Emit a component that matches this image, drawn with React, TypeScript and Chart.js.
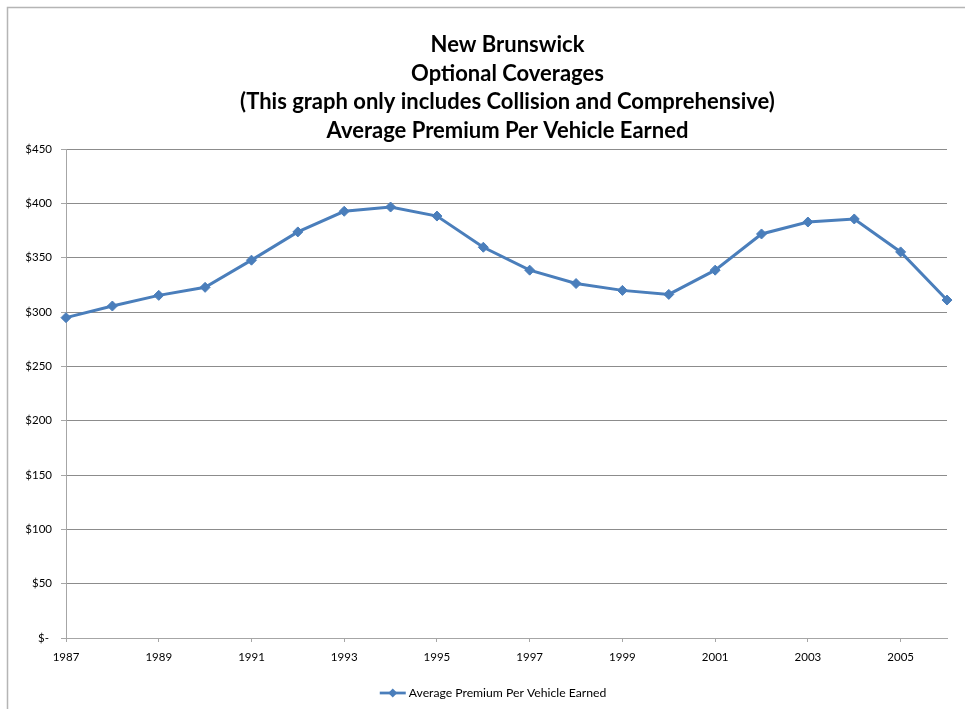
import React, { useEffect, useRef } from "react";
import { Chart, registerables } from "chart.js";

Chart.register(...registerables);

const titleLines = [
  "New Brunswick",
  "Optional Coverages",
  "(This graph only includes Collision and Comprehensive)",
  "Average Premium Per Vehicle Earned",
];

const years = [
  "1987", "1988", "1989", "1990", "1991", "1992", "1993", "1994", "1995", "1996",
  "1997", "1998", "1999", "2000", "2001", "2002", "2003", "2004", "2005", "2006",
];

const premiums = [
  294.8, 305.5, 315.3, 322.7, 347.7, 373.7, 392.7, 396.6, 388.3, 359.6,
  338.5, 326.2, 319.9, 316.2, 338.5, 371.8, 382.8, 385.6, 355.3, 311.0,
];

const seriesLabel = "Average Premium Per Vehicle Earned";

const yTicks = [0, 50, 100, 150, 200, 250, 300, 350, 400, 450];

const LINE_COLOR = "#4A7EBB";
const FONT = "Lato, 'Open Sans', sans-serif";

function drawDiamond(ctx: CanvasRenderingContext2D, x: number, y: number, r: number) {
  ctx.beginPath();
  ctx.moveTo(x, y - r);
  ctx.lineTo(x + r, y);
  ctx.lineTo(x, y + r);
  ctx.lineTo(x - r, y);
  ctx.closePath();
  ctx.fill();
}

const decorPlugin = {
  id: "decor",
  beforeDraw(chart: any) {
    const ctx = chart.ctx as CanvasRenderingContext2D;
    ctx.save();
    ctx.fillStyle = "#ffffff";
    ctx.fillRect(0, 0, chart.width, chart.height);
    ctx.strokeStyle = "#b5b5b5";
    ctx.lineWidth = 1.5;
    ctx.beginPath();
    ctx.moveTo(7.5, chart.height + 5);
    ctx.lineTo(7.5, 7.5);
    ctx.lineTo(chart.width + 5, 7.5);
    ctx.stroke();
    ctx.restore();
  },
  afterDraw(chart: any) {
    const ctx = chart.ctx as CanvasRenderingContext2D;
    const area = chart.chartArea;
    ctx.save();
    // title
    ctx.fillStyle = "#000000";
    ctx.font = `bold 22px ${FONT}`;
    ctx.textAlign = "center";
    ctx.textBaseline = "middle";
    const cx = (area.left + area.right) / 2 + 1;
    const tops = [45, 73.5, 102, 130.5];
    titleLines.forEach((t, i) => ctx.fillText(t, cx, tops[i]));
    // legend
    ctx.font = `12.2px ${FONT}`;
    const tw = ctx.measureText(seriesLabel).width;
    const lineLen = 26;
    const gap = 3;
    const total = lineLen + gap + tw;
    const lx = 493 - total / 2;
    const ly = 693;
    ctx.strokeStyle = LINE_COLOR;
    ctx.lineWidth = 2.75;
    ctx.beginPath();
    ctx.moveTo(lx, ly);
    ctx.lineTo(lx + lineLen, ly);
    ctx.stroke();
    ctx.fillStyle = LINE_COLOR;
    drawDiamond(ctx, lx + lineLen / 2, ly, 4.5);
    ctx.fillStyle = "#000000";
    ctx.textAlign = "left";
    ctx.fillText(seriesLabel, lx + lineLen + gap, ly + 0.5);
    ctx.restore();
  },
};

export default function App() {
  const ref = useRef<HTMLCanvasElement | null>(null);

  useEffect(() => {
    if (!ref.current) return;
    const chart = new Chart(ref.current, {
      type: "line",
      data: {
        labels: years,
        datasets: [
          {
            label: seriesLabel,
            data: premiums,
            borderColor: LINE_COLOR,
            backgroundColor: LINE_COLOR,
            borderWidth: 3,
            pointStyle: "rectRot",
            pointRadius: 5,
            pointBackgroundColor: LINE_COLOR,
            pointBorderColor: LINE_COLOR,
            pointBorderWidth: 1,
            tension: 0,
          },
        ],
      },
      options: {
        animation: false,
        responsive: false,
        maintainAspectRatio: false,
        devicePixelRatio: 1,
        layout: { padding: { top: 149, right: 18, bottom: 0, left: 0 } },
        plugins: {
          legend: { display: false },
          title: { display: false },
          tooltip: { enabled: false },
        },
        scales: {
          x: {
            type: "category",
            offset: false,
            afterFit: (scale: any) => {
              scale.height = 71;
            },
            grid: {
              drawOnChartArea: false,
              drawTicks: true,
              tickLength: 4,
              tickColor: (c: any) => (c.index % 2 === 0 ? "#a6a6a6" : "rgba(0,0,0,0)"),
            },
            border: { color: "#a6a6a6", width: 1 },
            ticks: {
              autoSkip: false,
              maxRotation: 0,
              minRotation: 0,
              padding: 8,
              color: "#000000",
              font: { family: FONT, size: 11.5 },
              callback: (_v: any, i: number) => (i % 2 === 0 ? years[i] : ""),
            },
          },
          y: {
            min: yTicks[0],
            max: yTicks[yTicks.length - 1],
            afterFit: (scale: any) => {
              scale.width = 66;
            },
            afterBuildTicks: (scale: any) => {
              scale.ticks = yTicks.map((v) => ({ value: v }));
            },
            grid: {
              color: "#8c8c8c",
              lineWidth: 1,
              drawTicks: true,
              tickLength: 5,
              tickColor: "#a6a6a6",
            },
            border: { color: "#a6a6a6", width: 1 },
            ticks: {
              padding: 9,
              color: "#000000",
              font: { family: FONT, size: 11.5 },
              callback: (v: any) => (Number(v) === 0 ? "$- " : "$" + v),
            },
          },
        },
      },
      plugins: [decorPlugin],
    });
    return () => chart.destroy();
  }, []);

  return (
    <div style={{ position: "absolute", left: 0, top: 0, width: 965, height: 709, background: "#fff" }}>
      <canvas ref={ref} width={965} height={709} style={{ width: 965, height: 709, display: "block" }} />
    </div>
  );
}
